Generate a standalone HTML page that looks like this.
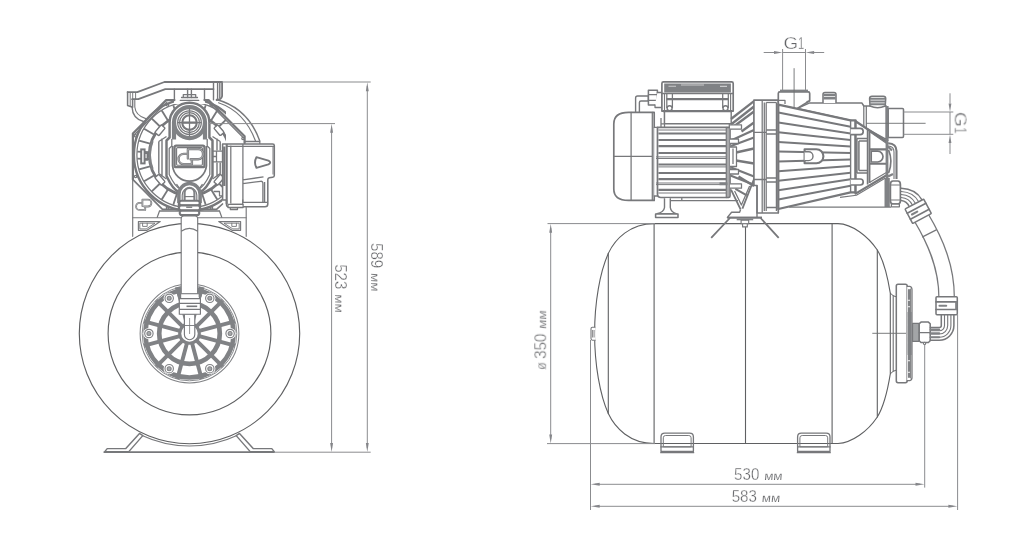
<!DOCTYPE html>
<html><head><meta charset="utf-8"><title>Pump station dimensions</title>
<style>
html,body{margin:0;padding:0;background:#fff;}
body{width:1018px;height:553px;overflow:hidden;font-family:"Liberation Sans",sans-serif;}
svg{display:block;}
</style></head><body>
<svg width="1018" height="553" viewBox="0 0 1018 553">
<rect width="1018" height="553" fill="#ffffff"/>
<!-- ---- pump, front view ---- -->
<g fill="none" stroke="#77787b" stroke-width="1.40" stroke-linejoin="round" stroke-linecap="round">
<path d="M216.5,99.5 Q248,108 259.8,141" />
<path d="M218.5,102.8 Q244.5,111.5 255.5,141" stroke-width="1.12"/>
<path d="M244.5,141.5 H259.8 V144" stroke-width="1.26"/>
<path d="M127.6,92.1 H137.3 L164.4,82 H222.1 V96.2 Q221.5,99.5 216.6,100.2" stroke-width="1.82"/>
<path d="M132.1,99.2 H138.3 L165.3,89.1 H213.5" stroke-width="1.82"/>
<path d="M127.6,92.1 V105.5 L132.6,107.2 V99.2" stroke-width="1.54"/>
<path d="M130.2,92.6 V106.2 M132.7,92.6 V99.2 M135.6,92.6 V99.2" stroke-width="0.98"/>
<path d="M132.1,107.2 Q132.5,118.5 143.5,121.5" />
<path d="M134.8,99.4 V107 Q135.6,115.5 145.8,118.6" stroke-width="1.12"/>
<path d="M213.5,82 V99.8 M217.6,82 V99.5 M219.8,82 V98" />
<path d="M174.4,89.1 V100.1 M204.5,89.1 V100.1" />
<path d="M187.6,89.1 V97.5 M191.4,89.1 V97.5" />
<path d="M181.5,97.5 H197.5 M180.2,100.3 H198.8 M183.3,94.6 H195.7 V97.5 M183.3,94.6 V97.5" stroke-width="1.26"/>
<path d="M132.9,179.3 V133.5 L166.2,100.1 H174.4 M204.5,100.1 H208.5 L244.6,136.3 V143" stroke-width="2.24"/>
<path d="M134.6,134.5 L167,102.2 M208,102.2 L242.6,137" stroke-width="1.12"/>
<path d="M132.7,179.3 L162.5,209.4 H216.5 L222.5,204" stroke-width="1.68"/>
<path d="M159.5,211 L157.2,217.4 M219.5,211 L221.8,217.4 M159.5,211 H219.5" stroke-width="1.26"/>
<circle cx="167.6" cy="105.0" r="1.2" stroke-width="1.26"/>
<circle cx="211.2" cy="105.0" r="1.2" stroke-width="1.26"/>
<circle cx="135.4" cy="135.8" r="1.2" stroke-width="1.26"/>
<circle cx="243" cy="138.5" r="1.2" stroke-width="1.26"/>
<circle cx="167.5" cy="208.0" r="1.2" stroke-width="1.26"/>
<circle cx="211.5" cy="208.0" r="1.2" stroke-width="1.26"/>
<circle cx="135.6" cy="176.5" r="1.2" stroke-width="1.26"/>
</g>
<defs><clipPath id="cpBody"><path d="M128,96 H174 V104 H205 V96 H226 V143.5 H222.4 V212 H128 Z"/></clipPath></defs>
<g fill="none" stroke="#77787b" clip-path="url(#cpBody)">
<circle cx="189.5" cy="155.0" r="55.6" stroke-width="2.38"/>
<circle cx="189.5" cy="155.0" r="52.6" stroke-width="1.26"/>
<circle cx="189.5" cy="155.0" r="40.2" stroke-width="2.80"/>
<line x1="176.83" y1="116.01" x2="173.31" y2="105.16" stroke-width="1.82"/>
<line x1="167.77" y1="120.23" x2="161.73" y2="110.56" stroke-width="1.82"/>
<line x1="160.01" y1="126.52" x2="151.81" y2="118.60" stroke-width="1.82"/>
<line x1="153.99" y1="134.50" x2="144.12" y2="128.80" stroke-width="1.82"/>
<line x1="150.09" y1="143.70" x2="139.13" y2="140.56" stroke-width="1.82"/>
<line x1="150.09" y1="166.30" x2="139.13" y2="169.44" stroke-width="1.82"/>
<line x1="153.99" y1="175.50" x2="144.12" y2="181.20" stroke-width="1.82"/>
<line x1="160.01" y1="183.48" x2="151.81" y2="191.40" stroke-width="1.82"/>
<line x1="167.77" y1="189.77" x2="161.73" y2="199.44" stroke-width="1.82"/>
<line x1="176.83" y1="193.99" x2="173.31" y2="204.84" stroke-width="1.82"/>
<line x1="202.17" y1="193.99" x2="205.69" y2="204.84" stroke-width="1.82"/>
<line x1="211.23" y1="189.77" x2="217.27" y2="199.44" stroke-width="1.82"/>
<line x1="218.99" y1="183.48" x2="227.19" y2="191.40" stroke-width="1.82"/>
<line x1="218.99" y1="126.52" x2="227.19" y2="118.60" stroke-width="1.82"/>
<line x1="211.23" y1="120.23" x2="217.27" y2="110.56" stroke-width="1.82"/>
<line x1="202.17" y1="116.01" x2="205.69" y2="105.16" stroke-width="1.82"/>
<line x1="137.3" y1="151.6" x2="149.4" y2="152.2" stroke-width="1.82"/>
<line x1="137.3" y1="158.6" x2="149.4" y2="159.2" stroke-width="1.82"/>
</g>
<g fill="none" stroke="#77787b" stroke-linejoin="round">
<path d="M158.8,141.5 V173.5 M162,138.5 V176.8 M158.8,141.5 L166.5,136.5 M158.8,173.5 L166.5,179" stroke-width="1.40"/>
<path d="M220.2,141.5 V150.5 M217,138.5 V150.5 M220.2,141.5 L212.5,136.5 M217,162.5 V176.8 M220.2,162.5 V173.5 L212.5,179" stroke-width="1.40"/>
<path d="M152.4,141 A39,39 0 0 0 152.4,169" stroke="#808285" stroke-width="2.52"/>
</g>
<g fill="#fff" stroke="#77787b" stroke-width="1.40">
<rect x="-5" y="-2.6" width="10" height="5.2" rx="1" transform="translate(160.01,130.25) rotate(-50)"/>
<rect x="-5" y="-2.6" width="10" height="5.2" rx="1" transform="translate(218.99,130.25) rotate(50)"/>
<rect x="-5" y="-2.6" width="10" height="5.2" rx="1" transform="translate(160.01,179.75) rotate(-130)"/>
<rect x="-5" y="-2.6" width="10" height="5.2" rx="1" transform="translate(218.99,179.75) rotate(-230)"/>
<rect x="141.2" y="149.4" width="3.4" height="14" stroke-width="1.96"/>
<path d="M144.6,153.2 h2.8 v6.6 h-2.8" fill="none" stroke-width="1.68"/>
</g>
<g fill="#fff" stroke="#77787b" stroke-width="1.40" stroke-linejoin="round">
<path d="M169.6,137.5 V122.6 A19.9,19.9 0 0 1 209.4,122.6 V137.5 L212.5,140.5 V176 Q206,190 200,192 V209.3 H179 V192 Q173,190 166.5,176 V140.5 Z" stroke-width="2.45"/>
<path d="M171.8,139 V146 L169.2,148.5 V174.5 Q175,187 181,189.5 M207.2,139 V146 L209.8,148.5 V174.5 Q204,187 198,189.5" fill="none" stroke-width="1.26"/>
<path d="M172.6,146 V166 A17,17 0 0 0 206.4,166 V146" fill="none" stroke-width="1.82"/>
</g>
<g fill="none" stroke="#808285">
<path d="M174.0,139.5 V122.6 A15.5,15.5 0 0 1 205.0,122.6 V139.5" stroke-width="4.20"/>
<path d="M174.0,122.6 A15.5,15.5 0 0 0 205.0,122.6" stroke-width="4.20"/>
<circle cx="189.5" cy="122.6" r="11.8" stroke="#77787b" stroke-width="1.26"/>
<circle cx="189.5" cy="122.6" r="9.9" stroke="#77787b" stroke-width="1.26"/>
<circle cx="189.5" cy="122.6" r="7.3" stroke="#77787b" stroke-width="2.10"/>
<path d="M177.5,122.6 H201.5 M189.5,108.5 V136.5" stroke="#77787b" stroke-width="1.26"/>
<path d="M182.3,122.6 H196.7" stroke="#77787b" stroke-width="2.24"/>
</g>
<g fill="none" stroke="#77787b" stroke-linecap="round" stroke-linejoin="round">
<rect x="174.6" y="145.6" width="29.8" height="21.6" rx="1.5" stroke-width="2.24" fill="#fff"/>
<rect x="176.6" y="147.6" width="25.8" height="17.6" rx="1" stroke-width="1.12"/>
<path d="M186.6,153.9 H183.7 A5.1,5.1 0 0 0 183.7,164.1 H191.9 V160.2" stroke="#77787b" stroke-width="2.38"/>
<path d="M187.9,158.4 V149 H198.1 A5.1,5.1 0 0 1 198.1,159.2 H190.6" stroke="#77787b" stroke-width="2.38"/>
<path d="M186.6,153.9 H183.7 A5.1,5.1 0 0 0 183.7,164.1 H191.9 V160.2" stroke="#fff" stroke-width="0.39"/>
<path d="M187.9,158.4 V149 H198.1 A5.1,5.1 0 0 1 198.1,159.2 H190.6" stroke="#fff" stroke-width="0.39"/>
<path d="M141.4,202.9 H139.6 A3.5,3.5 0 0 0 139.6,209.9 H145.2 V207.2" stroke="#77787b" stroke-width="1.82"/>
<path d="M142.4,206 V199.7 H148.0 A3.4,3.4 0 0 1 148.0,206.5 H144.2" stroke="#77787b" stroke-width="1.82"/>
<path d="M141.4,202.9 H139.6 A3.5,3.5 0 0 0 139.6,209.9 H145.2 V207.2" stroke="#fff" stroke-width="0.35"/>
<path d="M142.4,206 V199.7 H148.0 A3.4,3.4 0 0 1 148.0,206.5 H144.2" stroke="#fff" stroke-width="0.35"/>
</g>
<g fill="#fff" stroke="#77787b" stroke-linejoin="round">
<path d="M176.5,184 L180,189 M202.5,184 L199,189" fill="none" stroke-width="1.26"/>
<path d="M178.9,203 V194.2 A10.6,10.6 0 0 1 200.1,194.2 V203" stroke="#808285" stroke-width="3.50"/>
<path d="M182.2,203 V195 A7.3,7.3 0 0 1 196.8,195 V203" fill="none" stroke-width="1.12"/>
<path d="M184.6,203 V192.8 A4.9,4.9 0 0 1 194.4,192.8 V203" stroke="#808285" stroke-width="2.10"/>
<path d="M184.6,196.6 H194.4" fill="none" stroke-width="1.12"/>
<rect x="179.3" y="200.7" width="20.4" height="4.5" rx="2.2" stroke-width="2.03"/>
<rect x="179.0" y="205.6" width="21.0" height="4.7" rx="2.3" stroke-width="2.03"/>
<rect x="179.7" y="210.8" width="19.6" height="4.3" rx="2.1" stroke-width="2.03"/>
<path d="M186.2,207.2 H192.2" fill="none" stroke="#808285" stroke-width="1.54"/>
</g>
<g fill="#fff" stroke="#77787b" stroke-width="1.40" stroke-linejoin="round">
<path d="M222.6,143.9 H272.6 Q274.3,143.9 274.3,145.6 V175.4 Q274.3,177 272.6,177.2 L269.2,177.8 Q267.8,178.2 267.8,179.8 V204 Q267.8,206.8 265,206.8 H228.5 Q226.5,206.8 226.5,204.5 V200 H222.6 Z" stroke-width="1.54"/>
<path d="M230.8,145.5 V203.5 M242.9,143.9 V177 M226.7,146.4 H274.3" fill="none" stroke-width="1.26"/>
<path d="M226.7,143.9 V204 M224.2,146.5 V186" fill="none" stroke-width="2.10"/>
<path d="M242.9,179.9 L263.5,176.9 M242.9,183.6 L260.6,181.3 Q262.9,181.1 262.9,183.4 V202.3 M242.9,177 V202.3 H267.6 M264.6,182 V202.3" fill="none" stroke-width="1.33"/>
<path d="M242.7,199.6 V204.4 H230.4" fill="none" stroke-width="1.26"/>
<path d="M273,147 V174.5" fill="none" stroke-width="0.98"/>
<path d="M256.4,157.2 L268.4,160.6 Q272,162.5 268.4,164.4 L256.4,167.8 Q253.6,162.5 256.4,157.2 Z" stroke-width="1.89"/>
<path d="M228,204.3 H243.1 V207.5 H228 Z M230.3,207.8 H237.5 V209.6 H230.3 Z" stroke-width="1.26"/>
<path d="M212.5,151.2 H222.6 M212.5,161.8 H222.6 M216.5,151.2 V161.8 M212.5,156.5 H216.5" fill="none" stroke-width="1.26"/>
<path d="M213.6,191.5 H219.5 V195.8 H222.6" fill="none" stroke-width="1.26"/>
</g>
<!-- ============ LEFT FIGURE (front view) ============ -->
<g fill="none" stroke="#77787b" stroke-width="1.15" stroke-linejoin="round" stroke-linecap="round">
<circle cx="189.5" cy="333.5" r="110.2" stroke="#5f6062" stroke-width="1.15"/>
<circle cx="189.5" cy="333.5" r="81.4" stroke="#5f6062" stroke-width="1.15"/>
<path d="M141.5,435.3 A112.6,112.6 0 0 0 237.5,435.3"/>
<path d="M104.8,451.6 L107.2,448.6 L125.8,448.6 L139.5,433.4 L142.8,435.6 L128.8,451.6 Z" fill="#fff" stroke-width="1.44"/>
<path d="M274.2,451.6 L271.8,448.6 L253.2,448.6 L239.5,433.4 L236.2,435.6 L250.2,451.6 Z" fill="#fff" stroke-width="1.44"/>
<line x1="104.2" y1="452.1" x2="274.2" y2="452.1" stroke-width="1.72"/>
<path d="M132.7,134.5 V236.3" />
<path d="M246.2,207.5 V236.3" />
<path d="M132.7,217.7 H246.2" />
<path d="M138.4,221.6 H160.3 L147,230.3 H138.4 Z"/>
<path d="M140.2,223.2 H155 L146.2,228.9 H140.2 Z" stroke-width="0.92"/>
<path d="M240.6,221.6 H218.7 L232,230.3 H240.6 Z"/>
<path d="M238.8,223.2 H224 L232.8,228.9 H238.8 Z" stroke-width="0.92"/>
<path d="M142.6,223.2 v3.2 h4.6 v-3.2 M236.4,223.2 v3.2 h-4.6 v-3.2" stroke-width="0.92"/>
</g>
<g fill="none" stroke="#808285" stroke-linecap="butt">
<circle cx="189.5" cy="333.5" r="49.4" stroke-width="1.03" fill="#fff"/>
<circle cx="189.5" cy="333.5" r="47.3" stroke-width="0.92"/>
<circle cx="189.5" cy="333.5" r="44.0" stroke-width="4.48"/>
<circle cx="189.5" cy="333.5" r="30.3" stroke-width="4.71"/>
<circle cx="189.5" cy="333.5" r="9.8" stroke-width="3.10"/>
<line x1="199.16" y1="336.09" x2="234.90" y2="345.66" stroke-width="3.91"/>
<line x1="196.57" y1="340.57" x2="222.73" y2="366.73" stroke-width="3.91"/>
<line x1="192.09" y1="343.16" x2="201.66" y2="378.90" stroke-width="3.91"/>
<line x1="186.91" y1="343.16" x2="177.34" y2="378.90" stroke-width="3.91"/>
<line x1="182.43" y1="340.57" x2="156.27" y2="366.73" stroke-width="3.91"/>
<line x1="179.84" y1="336.09" x2="144.10" y2="345.66" stroke-width="3.91"/>
<line x1="179.84" y1="330.91" x2="144.10" y2="321.34" stroke-width="3.91"/>
<line x1="182.43" y1="326.43" x2="156.27" y2="300.27" stroke-width="3.91"/>
<line x1="186.91" y1="323.84" x2="177.34" y2="288.10" stroke-width="3.91"/>
<line x1="192.09" y1="323.84" x2="201.66" y2="288.10" stroke-width="3.91"/>
<line x1="196.57" y1="326.43" x2="222.73" y2="300.27" stroke-width="3.91"/>
<line x1="199.16" y1="330.91" x2="234.90" y2="321.34" stroke-width="3.91"/>
<circle cx="230.10" cy="333.50" r="5.6" fill="#fff" stroke="none"/>
<circle cx="230.10" cy="333.50" r="4.2" fill="#fff" stroke-width="1.15"/>
<circle cx="230.10" cy="333.50" r="2" fill="#a7a9ab" stroke-width="1.03"/>
<circle cx="209.80" cy="368.66" r="5.6" fill="#fff" stroke="none"/>
<circle cx="209.80" cy="368.66" r="4.2" fill="#fff" stroke-width="1.15"/>
<circle cx="209.80" cy="368.66" r="2" fill="#a7a9ab" stroke-width="1.03"/>
<circle cx="169.20" cy="368.66" r="5.6" fill="#fff" stroke="none"/>
<circle cx="169.20" cy="368.66" r="4.2" fill="#fff" stroke-width="1.15"/>
<circle cx="169.20" cy="368.66" r="2" fill="#a7a9ab" stroke-width="1.03"/>
<circle cx="148.90" cy="333.50" r="5.6" fill="#fff" stroke="none"/>
<circle cx="148.90" cy="333.50" r="4.2" fill="#fff" stroke-width="1.15"/>
<circle cx="148.90" cy="333.50" r="2" fill="#a7a9ab" stroke-width="1.03"/>
<circle cx="169.20" cy="298.34" r="5.6" fill="#fff" stroke="none"/>
<circle cx="169.20" cy="298.34" r="4.2" fill="#fff" stroke-width="1.15"/>
<circle cx="169.20" cy="298.34" r="2" fill="#a7a9ab" stroke-width="1.03"/>
<circle cx="209.80" cy="298.34" r="5.6" fill="#fff" stroke="none"/>
<circle cx="209.80" cy="298.34" r="4.2" fill="#fff" stroke-width="1.15"/>
<circle cx="209.80" cy="298.34" r="2" fill="#a7a9ab" stroke-width="1.03"/>
</g>
<g fill="#fff" stroke="#77787b" stroke-width="1.15" stroke-linejoin="round">
<path d="M184.4,314 V334.5 A5.2,5.2 0 0 0 194.8,334.5 V314 Z"/>
<path d="M184.4,325.5 H194.8" stroke-width="0.92"/>
<path d="M189.6,318 V334" stroke-width="0.80"/>
<path d="M181.2,218.5 Q181.2,216 183.8,216 H195.1 Q197.7,216 197.7,218.5 V294 H181.2 Z"/>
<path d="M181.2,231.3 Q189.45,225.6 197.7,231.3" fill="none"/>
<path d="M180.6,293.7 H199.6 V298.6 H180.6 Z"/>
<path d="M179.3,298.6 H200.4 V314.2 H179.3 Z"/>
<path d="M179.3,303.4 H200.4 M179.3,309.4 H200.4" fill="none"/>
<path d="M186.5,306.3 H197.2" fill="none" stroke-width="1.61"/>
<path d="M174.9,287.6 L180.8,286.2 V297.2 L178.2,297.4 Z" fill="#808285" stroke="none"/>
<path d="M204.5,287.6 L198.6,286.2 V297.2 L201.2,297.4 Z" fill="#808285" stroke="none"/>
</g>
<!-- ============ RIGHT FIGURE (side view): tank ============ -->
<g fill="none" stroke="#5f6062" stroke-width="1.10" stroke-linejoin="round" stroke-linecap="round">
  <!-- tank outline -->
  <path d="M654.1,223.6 H838 C852,224 868,236 877.3,250 C884,261 888,279 890.3,293.2 V373.8 C888,388 884,406 877.3,417 C868,431 852,443 838,443.5 H654.1 C630,443.5 615,428 608.3,413.6 C600,395 594.6,365 594.6,333.5 C594.6,302 600,272 608.3,253.4 C615,239 630,223.6 654.1,223.6 Z"/>
  <path d="M890.3,293.2 Q893,296.3 895.8,296.8 M890.3,373.8 Q893,370.7 895.8,370.2 M893.2,296 V371" stroke-width="0.99"/>
  <!-- seams -->
  <line x1="608.3" y1="253.4" x2="608.3" y2="413.6"/>
  <line x1="654.1" y1="223.6" x2="654.1" y2="443.5"/>
  <line x1="745.5" y1="223.6" x2="745.5" y2="443.5"/>
  <line x1="832.1" y1="223.6" x2="832.1" y2="443.5"/>
  <line x1="877.3" y1="250" x2="877.3" y2="417"/>
</g>
<g fill="#fff" stroke="#77787b" stroke-width="1.10" stroke-linejoin="round">
  <!-- air valve cap on the left -->
  <path d="M595.4,327.3 H592.4 Q591,327.3 591,328.8 V338.6 Q591,340.2 592.4,340.2 H595.6"/>
  <path d="M592.6,330 V337.5 M594.1,330 V337.5" fill="none" stroke-width="0.88"/>
  <!-- feet --><g fill="none">
  <path d="M661,451.5 V437 Q661,433.2 664.8,433.2 H689.6 Q693.4,433.2 693.4,437 V451.5 Z" stroke-width="1.32"/>
  <path d="M663.3,446.8 V437.8 Q663.3,435.5 665.6,435.5 H688.8 Q691.1,435.5 691.1,437.8 V446.8 Z" stroke-width="0.99"/>
  <path d="M660.4,446.9 H694 M660.2,452.6 H694.2" stroke-width="1.32"/>
  <path d="M797.6,451.5 V437 Q797.6,433.2 801.4,433.2 H826.2 Q830,433.2 830,437 V451.5 Z" stroke-width="1.32"/>
  <path d="M799.9,446.8 V437.8 Q799.9,435.5 802.2,435.5 H825.4 Q827.7,435.5 827.7,437.8 V446.8 Z" stroke-width="0.99"/>
  <path d="M797,446.9 H830.6 M796.8,452.6 H830.8" stroke-width="1.32"/>
</g>
</g>

<!-- ============ RIGHT FIGURE: pump side view ============ -->
<g fill="none" stroke-linecap="butt">
<path d="M921.2,217.4 C 936.5,243 946.6,268 946.6,297" stroke="#77787b" style="stroke-width:16.7px"/>
<path d="M921.0,217.0 C 936.5,243 946.6,268 946.6,297.5" stroke="#fff" style="stroke-width:14.2px"/>
</g>
<g fill="#fff" stroke="#77787b" stroke-width="1.40" stroke-linejoin="round" stroke-linecap="round">
<path d="M922.6,236.9 L936.3,229.9" fill="none" stroke-width="1.26"/>
<path d="M898,284.2 H905.4 Q907.2,284.2 907.2,286 V380.8 Q907.2,382.7 905.4,382.7 H898 Q896.3,382.7 896.3,380.8 V286 Q896.3,284.2 898,284.2 Z" stroke-width="1.54"/>
<path d="M907.2,286.3 H909.8 Q912,286.8 912,289.5 V377.5 Q912,380.2 909.8,380.7 H907.2" stroke-width="1.26"/>
<path d="M910.6,289 V378" fill="none" stroke-width="0.98"/>
<path d="M909,290 V377" fill="none" stroke="#808285" stroke-width="2.10" stroke-dasharray="9 2.5 4 2.5"/>
<path d="M907.6,312 H911.6 V355 H907.6 Z" fill="#808285" stroke="none"/>
<path d="M912.6,323.4 H919.2 V341.4 H912.6 Z" fill="#a3a5a7" stroke-width="1.12"/>
<path d="M919.2,323.8 L921,322.1 H928.4 L930.2,323.8 V340.8 L928.4,342.5 H921 L919.2,340.8 Z" stroke-width="1.54"/>
<path d="M919.2,332.6 H930.2" fill="none" stroke-width="1.26"/>
<circle cx="924.6" cy="343.4" r="1.1" stroke-width="1.12"/>
<path d="M930.4,327.6 H939.3 A2.0,2.0 0 0 0 941.3,325.6 V314" fill="none" stroke-width="1.54"/>
<path d="M930.4,330.8 H939.3 A5.2,5.2 0 0 0 944.5,325.6 V314" fill="none" stroke-width="1.12"/>
<path d="M930.4,334.0 H939.3 A8.4,8.4 0 0 0 947.7,325.6 V314" fill="none" stroke-width="1.12"/>
<path d="M930.4,337.2 H939.3 A11.6,11.6 0 0 0 950.9,325.6 V314" fill="none" stroke-width="1.12"/>
<path d="M930.4,340.2 H939.3 A14.6,14.6 0 0 0 953.9,325.6 V314" fill="none" stroke-width="1.54"/>
<path d="M930.6,329.6 H939.2 M930.6,333.4 H939.2 M930.6,337.2 H939.2" fill="none" stroke="#808285" stroke-width="2.10"/>
<path d="M937,296.7 H956.2 Q957.3,296.7 957.3,297.8 V313.6 Q957.3,314.7 956.2,314.7 H937 Q936,314.7 936,313.6 V297.8 Q936,296.7 937,296.7 Z" stroke-width="1.54"/>
<path d="M936,301.9 H957.3 M936,309.5 H957.3" fill="none" stroke-width="1.61"/>
<path d="M939.5,305.8 H946.2" fill="none" stroke="#808285" stroke-width="2.10"/>
<path d="M956.2,302 V309" fill="none" stroke="#808285" stroke-width="2.10"/>
</g>
<g fill="#fff" stroke="#77787b" stroke-width="1.40" stroke-linejoin="round" stroke-linecap="round">
<path d="M901.2,200.5 Q906.9,201.1 909.3,206.7" fill="none" stroke-width="1.54"/>
<path d="M901.2,197.5 Q909.1,198.1 912.4,205.1" fill="none" stroke-width="1.12"/>
<path d="M901.2,194.5 Q911.2,195.1 915.5,203.4" fill="none" stroke-width="1.12"/>
<path d="M901.2,191.5 Q913.4,192.1 918.7,201.7" fill="none" stroke-width="1.12"/>
<path d="M901.2,188.3 Q915.7,188.9 922.0,199.9" fill="none" stroke-width="1.54"/>
<g transform="translate(918.2,211.3) rotate(-28)">
<rect x="-10.6" y="-8.2" width="21.2" height="16.4" rx="0.8" stroke-width="1.54"/>
<path d="M-10.6,-3.4 H10.6 M-10.6,3.4 H10.6" fill="none" stroke-width="1.61"/>
<path d="M-7,-0.1 H-1" fill="none" stroke="#808285" stroke-width="2.10"/>
</g>
</g>
<g fill="#fff" stroke="#77787b" stroke-width="1.40" stroke-linejoin="round" stroke-linecap="round">
<path d="M635.6,112.2 V98 Q635.6,96 637.6,96 H648.4 V101 H641 Q639.4,101 639.4,102.6 V112.2" stroke-width="1.40"/>
<path d="M648.4,90.3 H657.4 V105 H648.4 Z" stroke-width="1.54"/>
<path d="M648.4,94.6 H657.4 M648.4,100.4 H657.4" fill="none" stroke-width="1.12"/>
<path d="M657.4,92.5 H661.9 V107.5 H655 V105" stroke-width="1.26"/>
<path d="M654.2,112.4 H628.5 Q613.8,112.4 613.8,124 V189 Q613.8,200.4 628.5,200.4 H654.2 Z" stroke-width="1.68"/>
<path d="M631.1,112.4 V200.4 M652.3,112.4 V200.4 M613.8,156.4 H652.3" fill="none" stroke-width="1.26"/>
<path d="M654.2,127.4 H657.6 V196 H654.2" stroke-width="1.26"/>
<path d="M657.5,127.4 H730 V196 Q730,197.5 728.5,197.5 H661 Q657.5,197.5 657.5,194 Z" stroke-width="1.68"/>
<path d="M726.3,127.4 V197.5 M728,127.4 V197.5" fill="none" stroke-width="1.26"/>
</g>
<g fill="none" stroke="#77787b" stroke-linecap="butt">
<line x1="658.4" y1="133.5" x2="726" y2="133.5" stroke-width="2.17"/>
<line x1="658.4" y1="140.0" x2="726" y2="140.0" stroke-width="2.17"/>
<line x1="658.4" y1="146.1" x2="726" y2="146.1" stroke-width="2.17"/>
<line x1="658.4" y1="153.0" x2="726" y2="153.0" stroke-width="2.17"/>
<line x1="658.4" y1="164.5" x2="726" y2="164.5" stroke-width="2.17"/>
<line x1="658.4" y1="173.0" x2="726" y2="173.0" stroke-width="2.17"/>
<line x1="658.4" y1="179.1" x2="726" y2="179.1" stroke-width="2.17"/>
<line x1="658.4" y1="189.9" x2="726" y2="189.9" stroke-width="2.17"/>
<line x1="658.4" y1="130.0" x2="726" y2="130.0" stroke-width="0.98"/>
<line x1="658.4" y1="166.9" x2="726" y2="166.9" stroke-width="0.98"/>
<line x1="658.4" y1="193.0" x2="726" y2="193.0" stroke-width="0.98"/>
<line x1="656" y1="156.9" x2="726" y2="156.9" stroke-width="0.98"/>
<line x1="656" y1="158.5" x2="726" y2="158.5" stroke-width="0.98"/>
<line x1="656" y1="183.0" x2="726" y2="183.0" stroke-width="0.98"/>
<line x1="656" y1="184.6" x2="726" y2="184.6" stroke-width="0.98"/>
<line x1="719.5" y1="183.8" x2="727.5" y2="183.8" stroke="#808285" stroke-width="2.80"/>
</g>
<g fill="#fff" stroke="#77787b" stroke-width="1.40" stroke-linejoin="round">
<path d="M664.5,111 V127.4 M729.3,111 V127.4 M661,123.8 H664.5 M661,118 V127.4" fill="none" stroke-width="1.26"/>
<path d="M664.5,111.1 H731.2 V123.8 H664.5 Z" stroke-width="1.40"/>
<path d="M661.9,83.5 Q661.9,81.9 663.5,81.9 H731.6 Q733.2,81.9 733.2,83.5 V111.1 H661.9 Z" stroke-width="1.68"/>
<path d="M664.2,83.4 H730.9 V92.6 H664.2 Z" fill="#808285" stroke="none"/>
<path d="M668.5,86.2 H676 M681,85 H704 M720,86.4 H727" fill="none" stroke="#c9cacc" stroke-width="1.12"/>
<path d="M661.9,93.5 H733.2" fill="none" stroke-width="1.26"/>
<path d="M666.4,99.2 H728.7" fill="none" stroke-width="2.24"/>
<path d="M663,111.1 H732" fill="none" stroke-width="2.24"/>
<path d="M666.8000000000001,93.5 V108 M672.4,93.5 V108" fill="none" stroke-width="1.26"/>
<circle cx="669.6" cy="108.2" r="2.5" stroke-width="1.40"/>
<path d="M722.7,93.5 V108 M728.3,93.5 V108" fill="none" stroke-width="1.26"/>
<circle cx="725.5" cy="108.2" r="2.5" stroke-width="1.40"/>
<path d="M664.5,93.5 V111 M730.6,93.5 V111" fill="none" stroke-width="1.12"/>
</g>
<g fill="#fff" stroke="#77787b" stroke-width="1.40" stroke-linejoin="round">
<path d="M664.5,198.2 V207.5 Q664,212 657,213.8 H676.6 Q670.8,212 670.3,207.5 V198.2" stroke-width="1.40"/>
<path d="M655.6,213.9 H678 V217.4 H655.6 Z" stroke-width="1.54"/>
<path d="M670.3,200.7 H738 M681.8,197.8 V200.7" fill="none" stroke-width="1.26"/>
</g>
<g fill="none" stroke="#77787b" stroke-width="1.40" stroke-linejoin="round" stroke-linecap="butt">
<line x1="731" y1="119.0" x2="754" y2="101.2" stroke-width="2.31"/>
<line x1="731" y1="124.5" x2="754" y2="106.5" stroke-width="2.31"/>
<line x1="731" y1="128.5" x2="754" y2="111.5" stroke-width="2.31"/>
<line x1="731" y1="140.5" x2="754" y2="130.0" stroke-width="2.31"/>
<line x1="731" y1="146.0" x2="754" y2="137.5" stroke-width="2.31"/>
<line x1="741.5" y1="131.5" x2="754" y2="122.5" stroke-width="2.31"/>
<line x1="738.5" y1="176.5" x2="754" y2="186.0" stroke-width="2.31"/>
<line x1="736" y1="152.5" x2="754" y2="148.5" stroke-width="2.31"/>
<line x1="736" y1="160.5" x2="754" y2="163.5" stroke-width="2.31"/>
<line x1="731" y1="167.5" x2="754" y2="176.5" stroke-width="2.31"/>
<path d="M730,124.8 H741.5 V129.2 H730 M730,139 H738.5 V143.5 H730 M733,148.5 V164 M730,147 H736.5 V166.5 H730 M730,169.5 H738.5 V174 H730 M730,183.8 H741.5 V188.2 H730" fill="#fff" stroke-width="1.26"/>
<path d="M731,189.6 L740.6,209.4 M754.4,178 L742.4,208.6" stroke-width="1.82"/>
<path d="M734.6,191 L741.4,205 L749.6,186" stroke-width="1.26"/>
<path d="M730.4,175.5 L753.2,184.6 M735.4,188.9 L746.8,195.4" stroke-width="2.10"/>
<path d="M740.6,209.4 L739.6,212.3 H731.6 L727.4,217.4 H762 M757,185.5 V217.4" fill="none" stroke-width="1.40"/>
<path d="M727.2,217.7 H762" stroke-width="2.10"/>
<path d="M736.7,218.6 H753.2 V220.3 H736.7 Z" fill="#808285" stroke="none"/>
<path d="M741.1,220.3 H748.7 V223.7 H741.1 Z" fill="#fff" stroke-width="1.12"/>
<path d="M742.6,223.7 H747.3 V226.9 H742.6 Z" fill="#fff" stroke-width="1.12"/>
<path d="M729.9,218 L711.2,237.9 M760.6,218 L778.7,237.9" stroke-width="1.82"/>
</g>
<g fill="#fff" stroke="#77787b" stroke-width="1.40" stroke-linejoin="round">
<path d="M753.9,100.2 H778.3 V213 H757.1 V185.5 H753.9 Z" stroke-width="1.68"/>
<path d="M762.2,100.2 V213 M764.3,102.5 V211 M766.2,102.5 V211 M776.4,102.5 V211" fill="none" stroke-width="1.26"/>
<path d="M753.9,132.3 H766.2 M753.9,179.5 H766.2 M766.2,130 H776.4 M766.2,134 H776.4 M766.2,178 H776.4 M766.2,182 H776.4 M766.2,207.5 H776.4" fill="none" stroke-width="1.26"/>
<path d="M766.2,102.5 H776.4" fill="none" stroke-width="1.26"/>
</g>
<g fill="#fff" stroke="#77787b" stroke-width="1.40" stroke-linejoin="round">
<path d="M796.9,108.6 L809.7,102.9 H861.8 L863.8,106 H886.2 V139.4 L852.2,120.7 L796.9,108.6 Z" stroke-width="1.54"/>
<path d="M863.8,106 V127 M866.3,106 V128.4" fill="none" stroke-width="1.26"/>
<path d="M778.3,105 V93.4 Q778.3,91.9 779.8,91.9 H808.2 Q809.7,91.9 809.7,93.4 V100.8 L796.9,108.6" stroke-width="1.68"/>
<path d="M778.3,100.4 H785 V104 M809.7,100.8 L806.5,101.5" fill="none" stroke-width="1.26"/>
<path d="M780,90.6 H808" fill="none" stroke="#808285" stroke-width="1.96"/>
<path d="M823,102.9 V94.6 Q823,92.6 825,92.6 H834 Q836,92.6 836,94.6 V102.9" stroke-width="1.54"/>
<path d="M823.4,95 H835.6 M823.4,98.2 H835.6" fill="none" stroke="#808285" stroke-width="2.38"/>
<path d="M870,106 L869.6,98.6 Q869.6,96.3 872,96.3 H883.4 Q885.7,96.3 885.7,98.6 L885.2,106 Q877.6,109.5 870,106 Z" stroke-width="1.54"/>
<path d="M870,98.8 H885.4 M870,101.6 H885.4 M870,104.2 H885.4" fill="none" stroke="#808285" stroke-width="2.03"/>
<path d="M888.2,108.4 H902.4 Q903.5,108.4 903.5,109.5 V136.3 Q903.5,137.4 902.4,137.4 H888.2 Z" stroke-width="1.54"/>
<path d="M887.2,106 V141" fill="none" stroke="#808285" stroke-width="2.80"/>
</g>
<g fill="#fff" stroke="#77787b" stroke-width="1.40" stroke-linejoin="round">
<path d="M778.3,104.7 L850.6,120.3 H855.6 V192.3 H850.6 L778.3,209 Z" stroke-width="2.24"/>
<path d="M850.6,120.3 V192.3" fill="none" stroke-width="1.40"/>
<line x1="778.3" y1="112.4" x2="850.6" y2="126.8" stroke-width="2.03"/>
<line x1="778.3" y1="122.5" x2="850.6" y2="133.4" stroke-width="2.03"/>
<line x1="778.3" y1="132.2" x2="850.6" y2="139.9" stroke-width="2.03"/>
<line x1="778.3" y1="141.9" x2="850.6" y2="146.5" stroke-width="2.03"/>
<line x1="778.3" y1="151.6" x2="850.6" y2="153.0" stroke-width="2.03"/>
<line x1="778.3" y1="161.5" x2="850.6" y2="159.6" stroke-width="2.03"/>
<line x1="778.3" y1="171.2" x2="850.6" y2="166.1" stroke-width="2.03"/>
<line x1="778.3" y1="180.8" x2="850.6" y2="172.7" stroke-width="2.03"/>
<line x1="778.3" y1="190.3" x2="850.6" y2="179.2" stroke-width="2.03"/>
<line x1="778.3" y1="199.6" x2="850.6" y2="185.8" stroke-width="2.03"/>
</g>
<g fill="#fff" stroke="#77787b" stroke-linejoin="round">
<path d="M804.6,149.2 H816.4 A7,7 0 0 1 816.4,163.2 H804.6 Z" stroke-width="2.10"/>
<path d="M804.6,151.8 H808.6 A4.4,4.4 0 0 1 808.6,160.6 H804.6" stroke-width="1.40" />
<path d="M779,151.7 H804.6 M779,161.4 H804.6" stroke-width="0.14" fill="none"/>
</g>
<g fill="#fff" stroke="#77787b" stroke-width="1.40" stroke-linejoin="round">
<path d="M855.6,121.2 L887,142 V175 L855.6,193.6 Z" stroke-width="2.24"/>
<path d="M869.4,131.6 L886.4,143.2 M869.4,182.4 L886.4,172.6" fill="none" stroke-width="1.12"/>
<path d="M867.6,128.8 V184.6 M869.6,130.5 V183 " fill="none" stroke-width="1.68"/>
<path d="M856.9,138.5 H867.6 M856.9,172.9 H867.6 M856.9,138.5 V172.9 M858.9,141 V170.5 M858.9,141 H867.6 M858.9,170.5 H867.6" fill="none" stroke-width="1.54"/>
<path d="M850.6,128.4 H860.1 A3.1,3.1 0 0 1 860.1,134.6 H850.6" fill="#fff" stroke-width="1.68"/>
<path d="M850.6,179.0 H860.2 A3.0,3.0 0 0 1 860.2,185.0 H850.6" fill="#fff" stroke-width="1.68"/>
<path d="M869.6,149.4 H886.4 M869.6,163.8 H886.4" fill="none" stroke-width="2.10"/>
<path d="M871.2,151.2 H877.6 A5.4,5.4 0 0 1 877.6,162 H871.2 Z" stroke-width="1.68"/>
<path d="M887,140 V207" fill="none" stroke="#808285" stroke-width="2.66"/>
<path d="M884.5,178 H889.8 V207 H884.5 Z" fill="#808285" stroke="none"/>
<path d="M888.2,143.2 Q896.5,143.6 896.5,151 V179" fill="none" stroke-width="2.10"/>
<path d="M888.2,146 Q894,146.4 894,152 V179" fill="none" stroke-width="1.12"/>
<path d="M888.6,150 Q893.2,161 888.6,173" fill="none" stroke-width="1.68"/>
<path d="M888,146.5 L892,150.5 M888,176.5 L893,174" fill="none" stroke="#808285" stroke-width="2.24"/>
<path d="M789.2,207.1 H891 " fill="none" stroke-width="1.40"/>
<path d="M840,197.4 L856.4,195.2 L885,178.2" fill="none" stroke-width="1.12"/>
<path d="M890.4,184.4 Q890.4,181 893,181 H897.8 Q900.4,181 900.4,184.4 V200.8 Q900.4,204 897.8,204 H893 Q890.4,204 890.4,200.8 Z" stroke-width="1.68"/>
<path d="M890.4,185 H900.4 M890.4,200 H900.4" fill="none" stroke-width="1.12"/>
<path d="M891.4,204 H899.4 V206.8 H891.4 Z" stroke-width="1.26"/>
</g>
<!-- ============ DIMENSIONS ============ -->
<g fill="none" stroke="#8b8c8f" stroke-width="1.00">
  <!-- left figure: extension lines -->
  <line x1="222" y1="82" x2="370.7" y2="82" stroke="#8a8b8d" stroke-width="1.10"/>
  <line x1="208" y1="123.6" x2="335" y2="123.6" stroke="#8a8b8d" stroke-width="1.00"/>
  <line x1="274" y1="452.2" x2="370.7" y2="452.2"/>
  <!-- dim lines -->
  <line x1="331.6" y1="128" x2="331.6" y2="448"/>
  <line x1="367.3" y1="86" x2="367.3" y2="448"/>
  <!-- right figure: 350 -->
  <line x1="547.5" y1="223.6" x2="655" y2="223.6"/>
  <line x1="547" y1="443.6" x2="655" y2="443.6"/>
  <line x1="550.7" y1="228" x2="550.7" y2="439"/>
  <!-- bottom ext lines -->
  <line x1="590.5" y1="340" x2="590.5" y2="510"/>
  <line x1="924.7" y1="344.5" x2="924.7" y2="487.6"/>
  <line x1="957.6" y1="314.3" x2="957.6" y2="510"/>
  <line x1="595" y1="484.3" x2="920" y2="484.3"/>
  <line x1="595" y1="506.3" x2="953" y2="506.3"/>
  <!-- G1 top -->
  <line x1="782.6" y1="49" x2="782.6" y2="90"/>
  <line x1="805.5" y1="49" x2="805.5" y2="90"/>
  <line x1="763.7" y1="52.5" x2="774" y2="52.5"/>
  <line x1="782.6" y1="52.5" x2="805.5" y2="52.5"/>
  <line x1="814" y1="52.5" x2="824.2" y2="52.5"/>
  <!-- G1 right -->
  <line x1="903.5" y1="112" x2="953.3" y2="112"/>
  <line x1="903.5" y1="134.3" x2="953.3" y2="134.3"/>
  <line x1="950" y1="93.3" x2="950" y2="103.5"/>
  <line x1="950" y1="112" x2="950" y2="134.3"/>
  <line x1="950" y1="143" x2="950" y2="154"/>
</g>
<g fill="#85868a" stroke="none">
  <!-- arrowheads -->
  <path d="M331.6,123.8 l-1.45,9 h2.9 z"/>
  <path d="M331.6,452 l-1.45,-9 h2.9 z"/>
  <path d="M367.3,82.3 l-1.45,9 h2.9 z"/>
  <path d="M367.3,452 l-1.45,-9 h2.9 z"/>
  <path d="M550.7,223.8 l-1.45,9 h2.9 z"/>
  <path d="M550.7,443.4 l-1.45,-9 h2.9 z"/>
  <path d="M590.7,484.3 l9,-1.45 v2.9 z"/>
  <path d="M924.5,484.3 l-9,-1.45 v2.9 z"/>
  <path d="M590.7,506.3 l9,-1.45 v2.9 z"/>
  <path d="M957.4,506.3 l-9,-1.45 v2.9 z"/>
  <path d="M782.5,52.5 l-8.5,-1.4 v2.8 z"/>
  <path d="M805.6,52.5 l8.5,-1.4 v2.8 z"/>
  <path d="M950,111.9 l-1.4,-8.5 h2.8 z"/>
  <path d="M950,134.4 l-1.4,8.5 h2.8 z"/>
</g>
<!-- centre lines -->
<g fill="none" stroke="#6d6e71" stroke-width="0.90">
  <line x1="794.1" y1="68.2" x2="794.1" y2="107.5"/>
  <line x1="866.4" y1="123.3" x2="925.6" y2="123.3"/>
  <line x1="872.3" y1="333.3" x2="906" y2="333.3"/>
</g>
<!-- ============ TEXT ============ -->
<g font-family="'Liberation Sans', sans-serif" fill="#636467" stroke="#ffffff" stroke-width="0.32" opacity="0.99">
  <text x="734.1" y="480.3" font-size="15.8" textLength="25.2" lengthAdjust="spacingAndGlyphs">530</text>
  <text transform="translate(763.9,480.3) skewX(-5)" x="0" y="0" font-size="12" textLength="18.4" lengthAdjust="spacingAndGlyphs" stroke-width="0.15">мм</text>
  <text x="731.7" y="502.4" font-size="15.8" textLength="25.2" lengthAdjust="spacingAndGlyphs">583</text>
  <text transform="translate(761.5,502.4) skewX(-5)" x="0" y="0" font-size="12" textLength="18.4" lengthAdjust="spacingAndGlyphs" stroke-width="0.15">мм</text>
  <text x="783.4" y="48.6" font-size="16" textLength="14.6" lengthAdjust="spacingAndGlyphs">G</text>
  <text x="797.9" y="48.6" font-size="16" textLength="6.2" lengthAdjust="spacingAndGlyphs">1</text>
  <g transform="translate(954.7,114.3) rotate(90)">
    <text x="-2.3" y="-0.2" font-size="16" textLength="14.8" lengthAdjust="spacingAndGlyphs">G</text>
    <text x="12.9" y="-0.2" font-size="16" textLength="6.2" lengthAdjust="spacingAndGlyphs">1</text>
  </g>
  <g transform="translate(335.3,264.2) rotate(90)">
    <text x="0" y="0" font-size="15.8" textLength="25.2" lengthAdjust="spacingAndGlyphs">523</text>
    <text transform="translate(29.8,0.0) skewX(-5)" x="0" y="0" font-size="12" textLength="18.4" lengthAdjust="spacingAndGlyphs" stroke-width="0.15">мм</text>
  </g>
  <g transform="translate(371,243) rotate(90)">
    <text x="0" y="0" font-size="15.8" textLength="25.2" lengthAdjust="spacingAndGlyphs">589</text>
    <text transform="translate(29.8,0.0) skewX(-5)" x="0" y="0" font-size="12" textLength="18.4" lengthAdjust="spacingAndGlyphs" stroke-width="0.15">мм</text>
  </g>
  <g transform="translate(546.2,369.8) rotate(-90)">
    <text x="0" y="0" font-size="14.5" textLength="7.6" lengthAdjust="spacingAndGlyphs">ø</text>
    <text x="11" y="0" font-size="15.8" textLength="25.2" lengthAdjust="spacingAndGlyphs">350</text>
    <text transform="translate(40.8,0.0) skewX(-5)" x="0" y="0" font-size="12" textLength="18.4" lengthAdjust="spacingAndGlyphs" stroke-width="0.15">мм</text>
  </g>
</g>

</svg>
</body></html>
